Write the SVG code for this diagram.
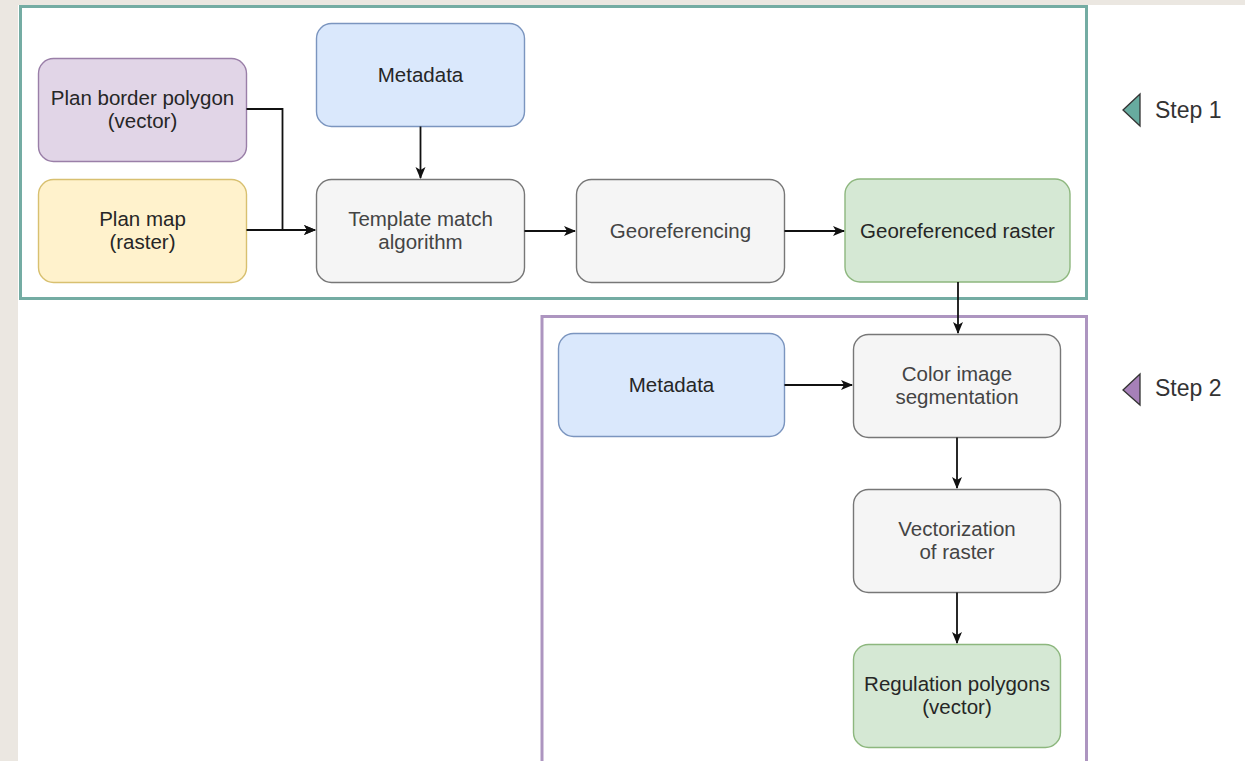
<svg xmlns="http://www.w3.org/2000/svg" width="1245" height="761" viewBox="0 0 1245 761">
  <defs>
    <marker id="arr" viewBox="0 0 12 12" refX="11" refY="6" markerWidth="12" markerHeight="12" markerUnits="userSpaceOnUse" orient="auto">
      <path d="M0,1 L12,6 L0,11 L3,6 Z" fill="#111"/>
    </marker>
    <style>
      .node rect { stroke-width: 1.4; }
      .lbl { font-family: "Liberation Sans", Arial, sans-serif; font-size: 20.5px; text-anchor: middle; fill: #262626; }
      .gray rect { fill: #f5f5f5; stroke: #777; }
      .gray text { fill: #444; }
      .blue rect { fill: #dae8fc; stroke: #7b95bf; }
      .green rect { fill: #d5e8d4; stroke: #8db77e; }
      .purple rect { fill: #e1d5e7; stroke: #9a7fa8; }
      .yellow rect { fill: #fff2cc; stroke: #d8c070; }
      .conn path { fill: none; stroke: #111; stroke-width: 1.8; }
      .step { font-family: "Liberation Sans", Arial, sans-serif; font-size: 23px; fill: #333; }
    </style>
  </defs>

  <rect x="0" y="0" width="1245" height="761" fill="#ffffff"/>
  <rect x="0" y="0" width="1245" height="5" fill="#ebe7e1"/>
  <rect x="0" y="0" width="18" height="761" fill="#ebe7e1"/>

  <g id="step1">
    <rect x="20.5" y="6.5" width="1066" height="292" fill="#ffffff" stroke="#74aca3" stroke-width="3"/>
  </g>
  <g id="step2">
    <rect x="542" y="316.5" width="544.5" height="460" fill="#ffffff" stroke="#ad95c0" stroke-width="3"/>
  </g>

  <g id="step1-label">
    <path d="M1123,110 L1140,94 L1140,126 Z" fill="#67ab9f" stroke="#333" stroke-width="1.3"/>
    <text class="step" x="1155" y="118">Step 1</text>
  </g>
  <g id="step2-label">
    <path d="M1123,390 L1140,374 L1140,405 Z" fill="#a680b8" stroke="#333" stroke-width="1.3"/>
    <text class="step" x="1155" y="396">Step 2</text>
  </g>

  <g id="plan-border" class="node purple">
    <rect x="38.5" y="58.5" width="208" height="103" rx="15"/>
    <text class="lbl" x="142.5" y="104.5">Plan border polygon</text>
    <text class="lbl" x="142.5" y="127.5">(vector)</text>
  </g>
  <g id="plan-map" class="node yellow">
    <rect x="38.5" y="179.5" width="208" height="103" rx="15"/>
    <text class="lbl" x="142.5" y="225.5">Plan map</text>
    <text class="lbl" x="142.5" y="248.5">(raster)</text>
  </g>
  <g id="metadata1" class="node blue">
    <rect x="316.5" y="23.5" width="208" height="103" rx="15"/>
    <text class="lbl" x="420.5" y="82">Metadata</text>
  </g>
  <g id="template" class="node gray">
    <rect x="316.5" y="179.5" width="208" height="103" rx="15"/>
    <text class="lbl" x="420.5" y="225.5">Template match</text>
    <text class="lbl" x="420.5" y="248.5">algorithm</text>
  </g>
  <g id="georef" class="node gray">
    <rect x="576.5" y="179.5" width="208" height="103" rx="15"/>
    <text class="lbl" x="680.5" y="238">Georeferencing</text>
  </g>
  <g id="georef-raster" class="node green">
    <rect x="845" y="179" width="225" height="103" rx="15"/>
    <text class="lbl" x="957.5" y="237.5">Georeferenced raster</text>
  </g>
  <g id="metadata2" class="node blue">
    <rect x="558.5" y="333.5" width="226" height="103" rx="15"/>
    <text class="lbl" x="671.5" y="392">Metadata</text>
  </g>
  <g id="color-seg" class="node gray">
    <rect x="853.5" y="334.5" width="207" height="103" rx="15"/>
    <text class="lbl" x="957" y="380.5">Color image</text>
    <text class="lbl" x="957" y="403.5">segmentation</text>
  </g>
  <g id="vectorization" class="node gray">
    <rect x="853.5" y="489.5" width="207" height="103" rx="15"/>
    <text class="lbl" x="957" y="535.5">Vectorization</text>
    <text class="lbl" x="957" y="558.5">of raster</text>
  </g>
  <g id="regulation" class="node green">
    <rect x="853.5" y="644.5" width="207" height="103" rx="15"/>
    <text class="lbl" x="957" y="690.5">Regulation polygons</text>
    <text class="lbl" x="957" y="713.5">(vector)</text>
  </g>

  <g id="connectors" class="conn">
    <path d="M246.5,109 H282.5 V230 H315" marker-end="url(#arr)"/>
    <path d="M246.5,230 H315" marker-end="url(#arr)"/>
    <path d="M420.5,126.5 V178" marker-end="url(#arr)"/>
    <path d="M524.5,231 H575" marker-end="url(#arr)"/>
    <path d="M784.5,231 H844" marker-end="url(#arr)"/>
    <path d="M958,282 V333" marker-end="url(#arr)"/>
    <path d="M784.5,385 H852" marker-end="url(#arr)"/>
    <path d="M957,437.5 V488" marker-end="url(#arr)"/>
    <path d="M957,592.5 V643" marker-end="url(#arr)"/>
  </g>
</svg>
